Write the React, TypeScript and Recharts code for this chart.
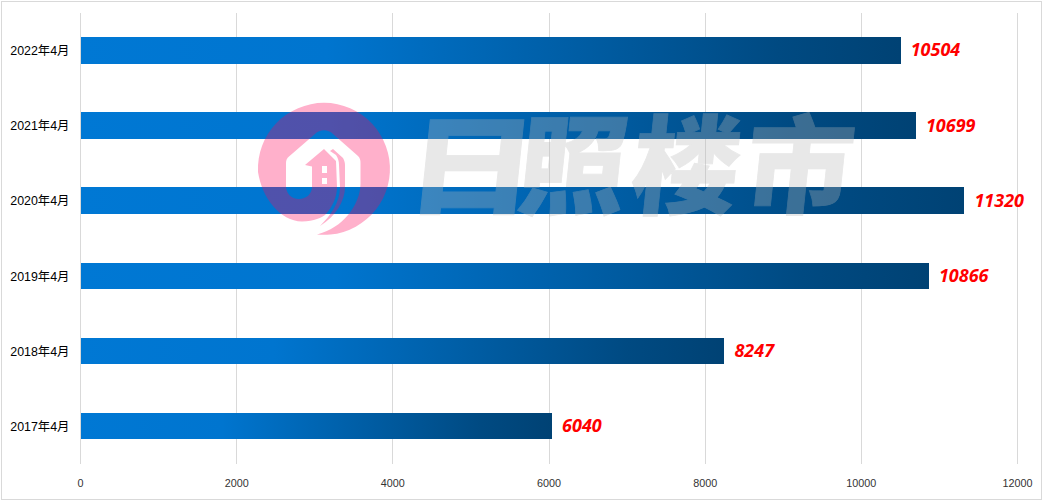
import { BarChart, Bar, XAxis, YAxis, CartesianGrid, LabelList } from 'recharts';

const years = ['2022年4月', '2021年4月', '2020年4月', '2019年4月', '2018年4月', '2017年4月'];
const prices = [10504, 10699, 11320, 10866, 8247, 6040];
const xTicks = [0, 2000, 4000, 6000, 8000, 10000, 12000];

const chartData = years.map((year, i) => ({ year, price: prices[i] }));

const FONT = '"Liberation Sans", "Noto Sans CJK SC", sans-serif';

// watermark glyphs, the first one is stretched a bit
const stampChars = ['日', '照', '楼', '市'];
const stampX = [403, 515, 628, 742];
const stampScale = [1.2, 1, 1, 1];

const PriceLabel = ({ x, y, width, height, value }: any) => (
  <text
    x={x + width + 10}
    y={y + height / 2 + 6}
    fill="#ff0000"
    fontSize={18}
    fontWeight={700}
    fontStyle="italic"
    fontFamily='"Noto Sans", sans-serif'
  >
    {value}
  </text>
);

// site logo + name stamped over the chart
const Watermark = () => (
  <svg width={1043} height={501} style={{ position: 'absolute', left: 0, top: 0, pointerEvents: 'none' }}>
    <path
      fill="#ff035a"
      fillOpacity={0.314}
      fillRule="evenodd"
      d="M317 234.5 A66 66 0 1 0 258 172 C262 198 280 221 302 221.5 C314 221 322 218 326 214
         C332 207 337 198 337 187 L336 161 L324 149 L305 165 L312 166.5 L312 187
         C312 194 306 199 299 199 C291 199 286 193 286 186 L286 163 C286 160 287 158 289 156.5
         L315 134 C320 129 328 129 333 134 L358 156 C360 158 360.5 160 360.5 163 L360.5 184
         C360 205 343 228 317 234.5 Z
         M333 149 L343 158 C344 160 345 162 345 165 L345 187 C345 201 336 216 320 226
         C330 216 340 203 340 187 L339 165 C339 161 338 158 336 155 L330 151 Z
         M322 166 L327 166 L327 173 L322 173 Z M322 178 L327 178 L327 184 L322 184 Z"
    />
    <g opacity={0.32} fill="#b9b9b9" stroke="#b9b9b9" strokeWidth={0.8}>
      {stampChars.map((ch, i) => (
        <text
          key={ch}
          transform={`translate(${stampX[i]} 206) skewX(-6) scale(${stampScale[i]} 1)`}
          fontSize={108}
          fontWeight={900}
          fontFamily='"Noto Sans CJK SC", sans-serif'
        >
          {ch}
        </text>
      ))}
    </g>
  </svg>
);

export default function App() {
  return (
    <div style={{ position: 'absolute', left: 0, top: 0, width: 1043, height: 501, background: '#fff' }}>
      <div
        style={{
          position: 'absolute',
          left: 1,
          top: 1,
          width: 1041,
          height: 499,
          boxSizing: 'border-box',
          border: '1px solid #d9d9d9',
        }}
      />
      <div style={{ position: 'absolute', left: 0, top: 0, shapeRendering: 'crispEdges' }}>
        <BarChart
          width={1043}
          height={501}
          layout="vertical"
          data={chartData}
          margin={{ top: 13.2, right: 25.5, bottom: 0, left: 0.5 }}
        >
          <defs>
            <linearGradient id="barFill" x1="0" y1="0" x2="1" y2="0">
              <stop offset="0%" stopColor="#0078d4" />
              <stop offset="30%" stopColor="#0075cf" />
              <stop offset="85%" stopColor="#004a82" />
              <stop offset="100%" stopColor="#004274" />
            </linearGradient>
          </defs>
          <CartesianGrid horizontal={false} stroke="#d9d9d9" strokeWidth={1} />
          <XAxis
            type="number"
            domain={[0, 12000]}
            ticks={xTicks}
            height={37}
            axisLine={false}
            tickLine={false}
            interval={0}
            tickMargin={9}
            tick={{ fontSize: 10.8, fill: '#333', fontFamily: FONT }}
          />
          <YAxis
            type="category"
            dataKey="year"
            width={80}
            axisLine={false}
            tickLine={false}
            tickMargin={5}
            tick={{ fontSize: 12.4, fill: '#000', fontFamily: FONT }}
          />
          <Bar dataKey="price" barSize={26.5} fill="url(#barFill)" isAnimationActive={false}>
            <LabelList dataKey="price" content={PriceLabel} />
          </Bar>
        </BarChart>
      </div>
      <Watermark />
    </div>
  );
}
